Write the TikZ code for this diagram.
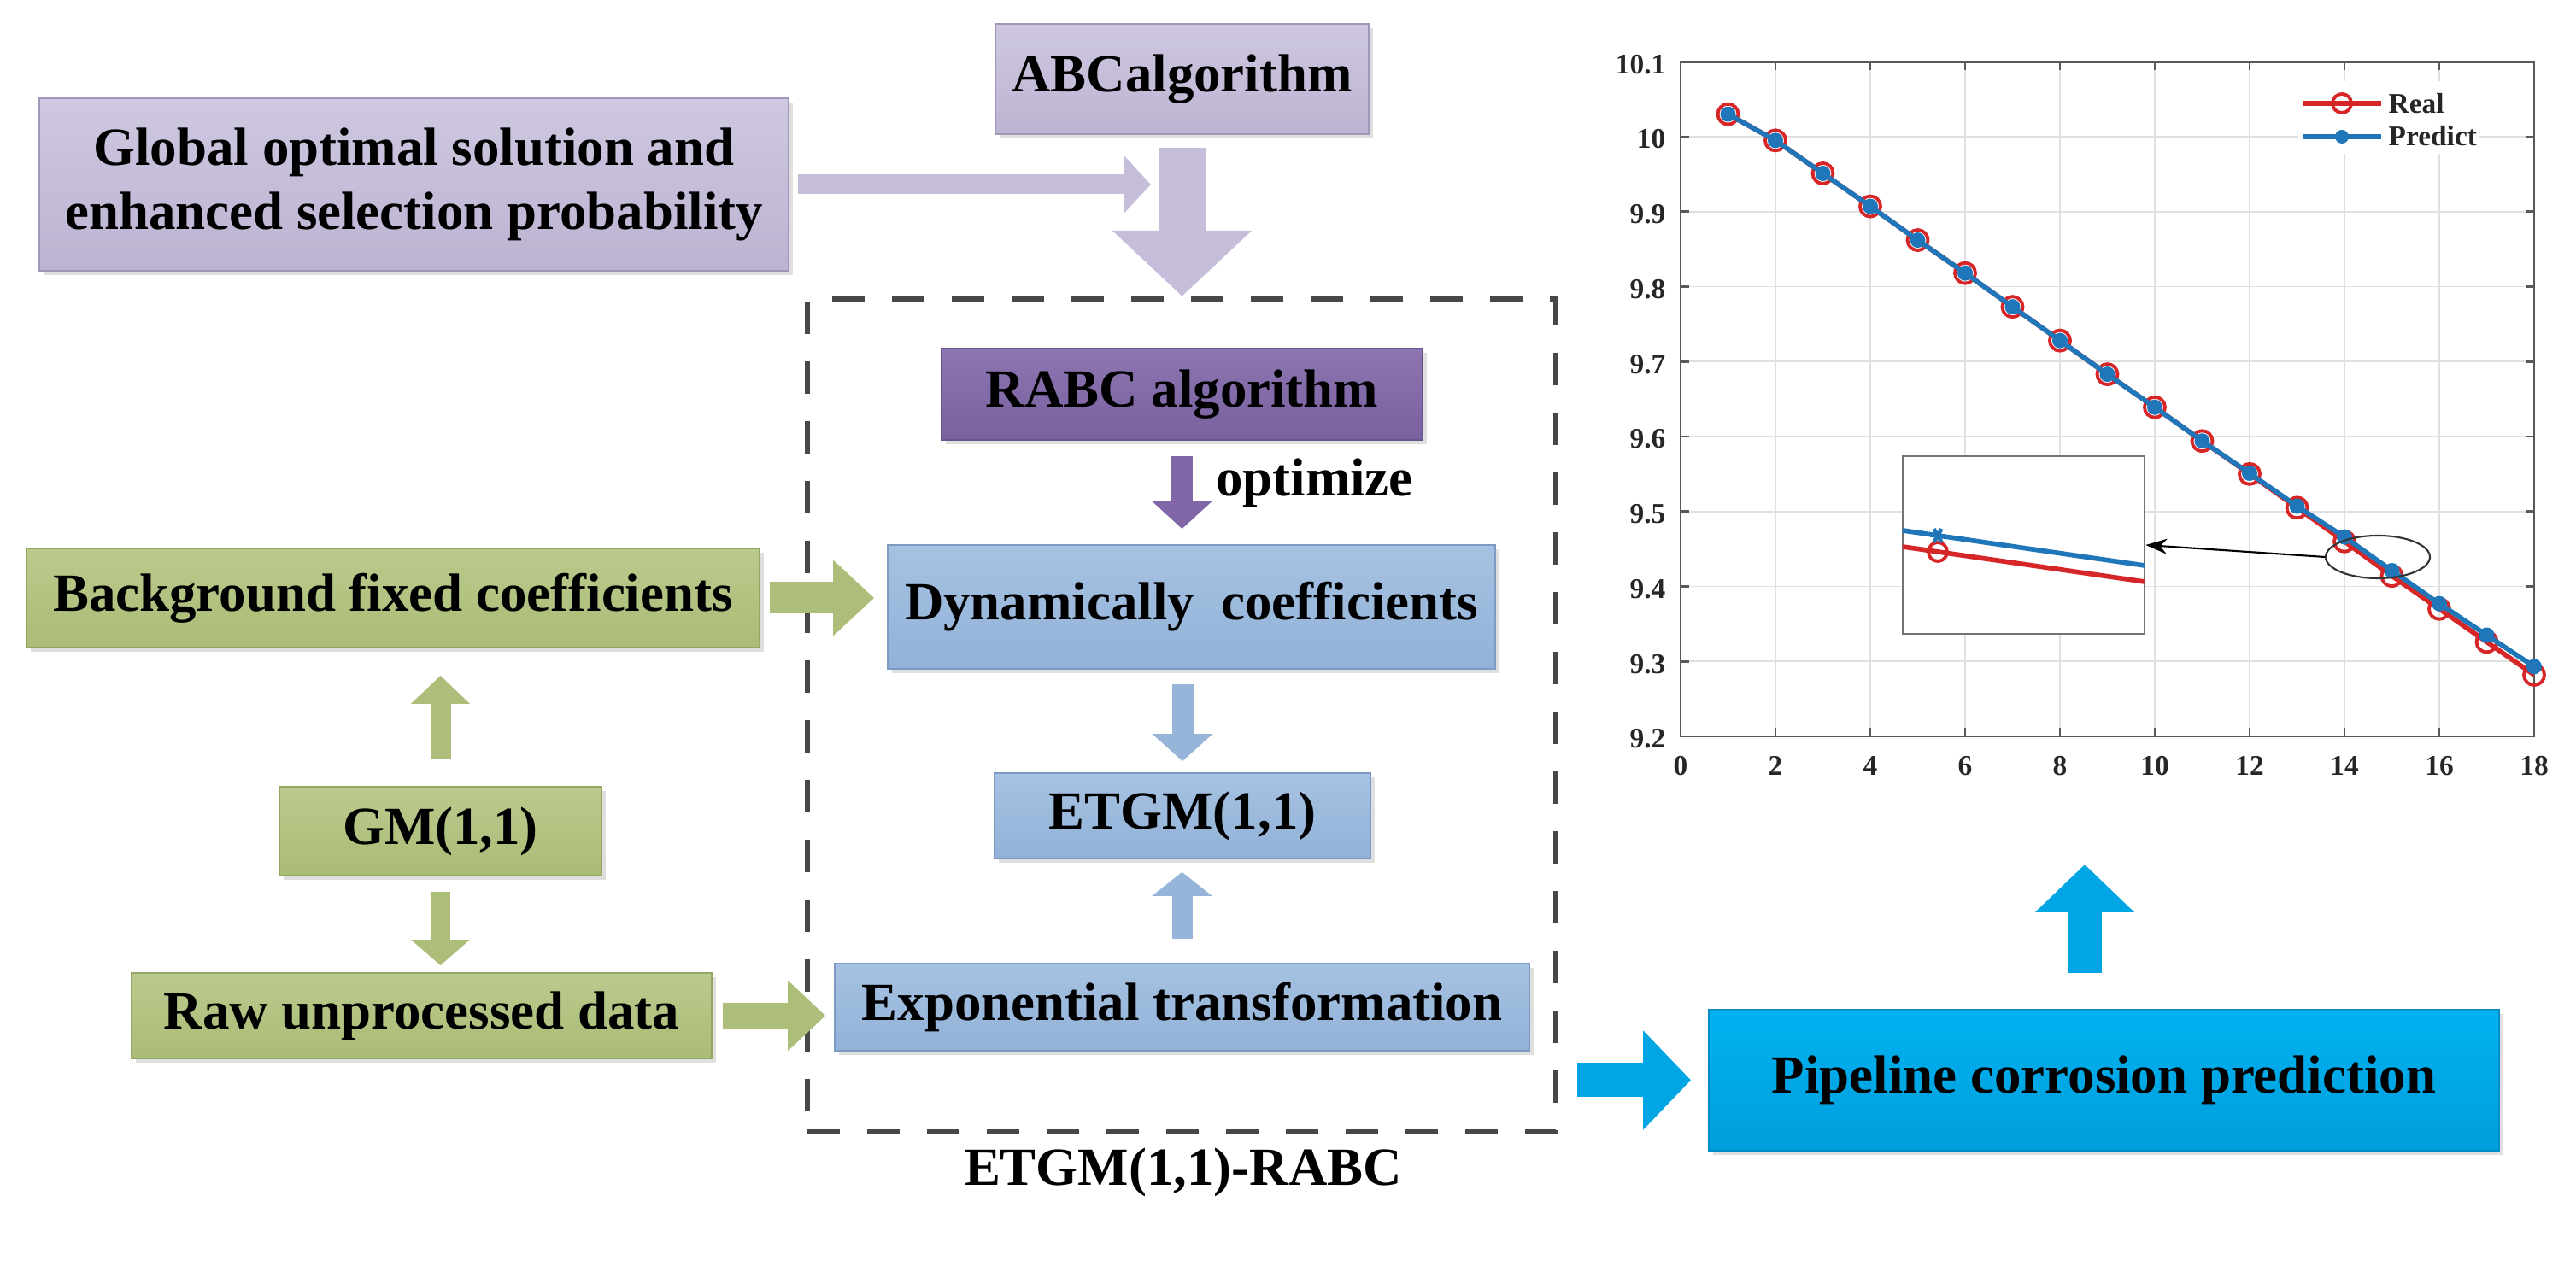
\documentclass[tikz,border=0pt]{standalone}
\usepackage{fontspec}
\setmainfont{Liberation Serif}
\usetikzlibrary{arrows.meta}
\usetikzlibrary{shapes.geometric}
\usetikzlibrary{shadows}

\definecolor{lavtop}{RGB}{207,200,224}
\definecolor{lavbot}{RGB}{188,179,210}
\definecolor{lavline}{RGB}{160,150,186}
\definecolor{lavarrow}{RGB}{197,189,217}
\definecolor{purtop}{RGB}{141,117,177}
\definecolor{purbot}{RGB}{121,97,160}
\definecolor{purline}{RGB}{105,84,140}
\definecolor{purarrow}{RGB}{128,102,166}
\definecolor{bluetop}{RGB}{166,194,226}
\definecolor{bluebot}{RGB}{146,178,215}
\definecolor{blueline}{RGB}{124,154,194}
\definecolor{bluearrow}{RGB}{150,181,216}
\definecolor{grntop}{RGB}{187,202,141}
\definecolor{grnbot}{RGB}{170,188,118}
\definecolor{grnline}{RGB}{148,166,100}
\definecolor{grnarrow}{RGB}{172,190,122}
\definecolor{cyantop}{RGB}{0,178,240}
\definecolor{cyanbot}{RGB}{0,158,220}
\definecolor{cyanline}{RGB}{0,140,200}
\definecolor{cyanarrow}{RGB}{0,166,228}
\definecolor{realred}{RGB}{214,38,40}
\definecolor{predblue}{RGB}{31,119,186}

\tikzset{
  flowbox/.style={draw, line width=0.5pt, inner sep=0pt, align=center,
    font=\fontsize{17.9}{21.3}\selectfont\bfseries,
    drop shadow={shadow xshift=0.05cm, shadow yshift=-0.05cm, opacity=0.25}},
  lavbox/.style={flowbox, draw=lavline, top color=lavtop, bottom color=lavbot},
  purbox/.style={flowbox, draw=purline, top color=purtop, bottom color=purbot},
  bluebox/.style={flowbox, draw=blueline, top color=bluetop, bottom color=bluebot},
  grnbox/.style={flowbox, draw=grnline, top color=grntop, bottom color=grnbot},
  cyanbox/.style={flowbox, draw=cyanline, top color=cyantop, bottom color=cyanbot},
  flowtext/.style={inner sep=0pt, font=\fontsize{17.9}{21.3}\selectfont\bfseries},
  blockarrow/.style n args={3}{line width=#1, -{Triangle[length=#3,width=#2]}},
  gridline/.style={black!12, line width=0.5pt},
  axisline/.style={black!65, line width=0.8pt},
  ticklabel/.style={inner sep=0pt, font=\fontsize{9.5}{11}\selectfont\bfseries, text=black!85}
}

\begin{document}
\begin{tikzpicture}
\useasboundingbox (0,0) rectangle (30.15,14.82);

\node[lavbox, minimum width=8.77cm, minimum height=2.02cm] (global) at (4.845,12.66) {Global optimal solution and\\enhanced selection probability};
\node[lavbox, minimum width=4.37cm, minimum height=1.29cm] (abc) at (13.835,13.895) {ABCalgorithm};

\node[draw=black!72, line width=1.8pt, dash pattern=on 0.38cm off 0.32cm, minimum width=8.76cm, minimum height=9.75cm, inner sep=0pt] (frame) at (13.83,6.445) {};
\node[flowtext] (framelbl) at (13.85,1.10) {ETGM(1,1)-RABC};

\node[purbox, minimum width=5.63cm, minimum height=1.07cm] (rabc) at (13.835,10.205) {RABC algorithm};
\node[bluebox, minimum width=7.11cm, minimum height=1.45cm] (dyn) at (13.945,7.715) {Dynamically~~coefficients};
\node[bluebox, minimum width=4.40cm, minimum height=1.00cm] (etgm) at (13.84,5.27) {ETGM(1,1)};
\node[bluebox, minimum width=8.13cm, minimum height=1.02cm] (expo) at (13.835,3.03) {Exponential transformation};

\node[grnbox, minimum width=8.58cm, minimum height=1.16cm] (bg) at (4.60,7.82) {Background fixed coefficients};
\node[grnbox, minimum width=3.77cm, minimum height=1.04cm] (gm) at (5.155,5.09) {GM(1,1)};
\node[grnbox, minimum width=6.79cm, minimum height=1.00cm] (raw) at (4.935,2.93) {Raw unprocessed data};

\node[cyanbox, minimum width=9.25cm, minimum height=1.65cm] (pipe) at (24.625,2.175) {Pipeline corrosion prediction};

\coordinate (abcin) at (13.47,12.66);
\coordinate (plotin) at (24.40,4.70);

\draw[blockarrow={0.23cm}{0.67cm}{0.32cm}, draw=lavarrow, shorten <=0.10cm] (global.east) -- (abcin);
\draw[blockarrow={0.55cm}{1.59cm}{0.77cm}, draw=lavarrow, shorten <=0.15cm] (abc.south) -- (abc.south |- frame.north);

\draw[blockarrow={0.25cm}{0.70cm}{0.33cm}, draw=purarrow, shorten <=0.18cm, shorten >=0.18cm] (rabc.south) -- (rabc.south |- dyn.north);
\node[flowtext, anchor=base west] (optlbl) at ([xshift=0.39cm,yshift=-0.65cm]rabc.south) {optimize};
\draw[blockarrow={0.25cm}{0.69cm}{0.32cm}, draw=bluearrow, shorten <=0.17cm, shorten >=0.13cm] (etgm.north |- dyn.south) -- (etgm.north);
\draw[blockarrow={0.24cm}{0.69cm}{0.28cm}, draw=bluearrow, shorten <=0.28cm, shorten >=0.15cm] (expo.north) -- (expo.north |- etgm.south);

\draw[blockarrow={0.37cm}{0.86cm}{0.48cm}, draw=grnarrow, shorten <=0.11cm, shorten >=0.15cm] (bg.east) -- (bg.east -| dyn.west);
\draw[blockarrow={0.24cm}{0.67cm}{0.33cm}, draw=grnarrow, shorten <=0.31cm, shorten >=0.32cm] (gm.north) -- (gm.north |- bg.south);
\draw[blockarrow={0.22cm}{0.67cm}{0.30cm}, draw=grnarrow, shorten <=0.18cm, shorten >=0.08cm] (gm.south) -- (gm.south |- raw.north);
\draw[blockarrow={0.30cm}{0.80cm}{0.44cm}, draw=grnarrow, shorten <=0.12cm, shorten >=0.10cm] (raw.east) -- (raw.east -| expo.west);

\draw[blockarrow={0.40cm}{1.13cm}{0.56cm}, draw=cyanarrow, shorten <=0.22cm, shorten >=0.20cm] (frame.east |- pipe.west) -- (pipe.west);
\draw[blockarrow={0.39cm}{1.13cm}{0.56cm}, draw=cyanarrow, shorten <=0.42cm] (plotin |- pipe.north) -- (plotin);

\begin{scope}[shift={(19.67,-74.53)}, x=0.555cm, y=8.775cm]
\foreach \gx in {2,4,...,16} \draw[gridline] (\gx,9.2) -- (\gx,10.1);
\foreach \gy in {9.3,9.4,9.5,9.6,9.7,9.8,9.9,10} \draw[gridline] (0,\gy) -- (18,\gy);
\draw[axisline] (0,9.2) rectangle (18,10.1);
\foreach \gx in {2,4,...,16} {
  \draw[axisline] (\gx,9.2) -- ++(0pt,0.1cm);
  \draw[axisline] (\gx,10.1) -- ++(0pt,-0.1cm);
}
\foreach \gy in {9.3,9.4,9.5,9.6,9.7,9.8,9.9,10} {
  \draw[axisline] (0,\gy) -- ++(0.1cm,0pt);
  \draw[axisline] (18,\gy) -- ++(-0.1cm,0pt);
}
\foreach \lab [count=\k] in {9.2,9.3,9.4,9.5,9.6,9.7,9.8,9.9,10,10.1}
  \node[ticklabel, anchor=east, xshift=-0.17cm, yshift=-0.03cm] (ylab\k) at (0,\lab) {\lab};
\foreach \lab in {0,2,...,18}
  \node[ticklabel, anchor=base, yshift=-0.46cm] (xlab\lab) at (\lab,9.2) {\lab};

\draw[realred, line width=1.6pt] plot coordinates {(1,10.030) (2,9.995) (3,9.951) (4,9.907) (5,9.862) (6,9.818) (7,9.773) (8,9.728) (9,9.683) (10,9.639) (11,9.594) (12,9.550) (13,9.505) (14,9.460) (15,9.414) (16,9.370) (17,9.326) (18,9.282)};
\foreach \px/\py in {1/10.030,2/9.995,3/9.951,4/9.907,5/9.862,6/9.818,7/9.773,8/9.728,9/9.683,10/9.639,11/9.594,12/9.550,13/9.505,14/9.460,15/9.414,16/9.370,17/9.326,18/9.282}
  \draw[realred, line width=1.1pt] (\px,\py) circle (0.12cm);
\draw[predblue, line width=1.6pt] plot coordinates {(1,10.030) (2,9.995) (3,9.951) (4,9.907) (5,9.862) (6,9.818) (7,9.773) (8,9.728) (9,9.683) (10,9.639) (11,9.594) (12,9.551) (13,9.507) (14,9.466) (15,9.421) (16,9.377) (17,9.335) (18,9.293)};
\foreach \px/\py in {1/10.030,2/9.995,3/9.951,4/9.907,5/9.862,6/9.818,7/9.773,8/9.728,9/9.683,10/9.639,11/9.594,12/9.551,13/9.507,14/9.466,15/9.421,16/9.377,17/9.335,18/9.293}
  \fill[predblue] (\px,\py) circle (0.09cm);
\end{scope}

\node[fill=white, minimum width=2.12cm, minimum height=0.85cm, inner sep=0pt] (legbox) at (27.96,13.445) {};
\draw[realred, line width=1.6pt] (26.95,13.61) -- (27.87,13.61);
\draw[realred, line width=1.1pt] (27.41,13.61) circle (0.11cm);
\node[ticklabel, anchor=base west] (legreal) at (27.95,13.49) {Real};
\draw[predblue, line width=1.6pt] (26.95,13.22) -- (27.87,13.22);
\fill[predblue] (27.41,13.22) circle (0.08cm);
\node[ticklabel, anchor=base west] (legpred) at (27.95,13.11) {Predict};

\node[draw=black!55, fill=white, line width=0.8pt, minimum width=2.83cm, minimum height=2.08cm, inner sep=0pt] (inset) at (23.685,8.44) {};
\draw[predblue, line width=1.6pt] (22.27,8.61) -- (25.10,8.20);
\draw[realred, line width=1.6pt] (22.27,8.42) -- (25.10,8.01);
\draw[realred, line width=1.1pt] (22.68,8.36) circle (0.11cm);
\foreach \a in {0,60,120} \draw[predblue, line width=1.3pt] (22.68,8.55) ++(\a:0.09) -- ++(\a+180:0.18);

\node[draw=black!80, ellipse, line width=0.6pt, minimum width=1.22cm, minimum height=0.50cm, inner sep=0pt] (ring) at (27.83,8.30) {};
\draw[black, line width=0.6pt, -{Stealth[length=0.25cm,width=0.18cm]}] (ring.west) -- (inset.east);

\end{tikzpicture}
\end{document}
